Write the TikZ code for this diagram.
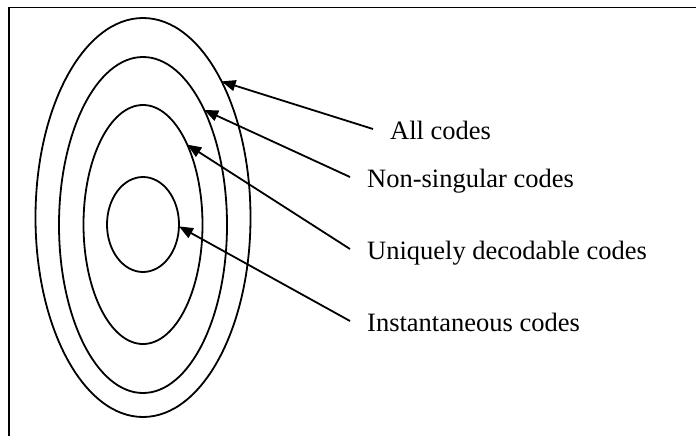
\documentclass[tikz,border=0pt]{standalone}
\usepackage{fontspec}
\setmainfont{Liberation Serif}
\usetikzlibrary{shapes.geometric,arrows.meta}
\begin{document}
\begin{tikzpicture}[x=1pt,y=1pt,
  ring/.style={ellipse,draw,line width=1.8pt,inner sep=0pt,outer sep=0pt},
  lbl/.style={font=\fontsize{26.5}{30}\selectfont,anchor=base west,inner xsep=17pt,inner ysep=0pt,text height=20pt,text depth=0pt},
  pointer/.style={line width=1.8pt,-{Triangle[length=14pt,width=11pt]}},
  frameline/.style={line width=1.8pt}]
\useasboundingbox (0,0) rectangle (696,-436);
\draw[frameline] (9,-436) -- (9,-7.5) -- (696,-7.5);
\node[ring,minimum width=215pt,minimum height=399pt] (e1) at (143,-217.5) {};
\node[ring,minimum width=168pt,minimum height=336pt] (e2) at (143,-225) {};
\node[ring,minimum width=119pt,minimum height=239pt] (e3) at (143,-224.5) {};
\node[ring,minimum width=72pt,minimum height=95pt] (e4) at (143,-224.5) {};
\node[lbl] (t1) at (373,-139) {All codes};
\node[lbl] (t2) at (350,-187) {Non-singular codes};
\node[lbl] (t3) at (350,-259) {Uniquely decodable codes};
\node[lbl] (t4) at (350,-331) {Instantaneous codes};
\draw[pointer] (t1.west) -- (e1.60.6);
\draw[pointer] (t2.west) -- (e2.62.7);
\draw[pointer] (t3.west) -- (e3.61.4);
\draw[pointer] (t4.west) -- (e4.-3.9);
\end{tikzpicture}
\end{document}
